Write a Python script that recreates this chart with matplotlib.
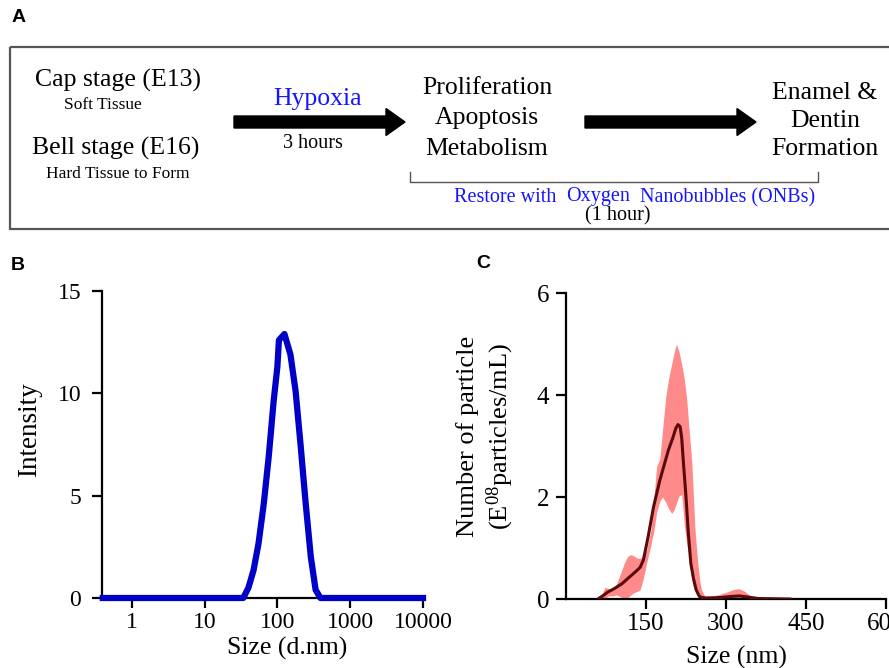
import matplotlib
matplotlib.use('Agg')
import matplotlib.pyplot as plt
from matplotlib.patches import Rectangle, FancyArrow
from matplotlib.ticker import LogLocator, NullFormatter, FixedLocator

plt.rcParams['font.family'] = ['Liberation Serif', 'DejaVu Serif']
plt.rcParams['mathtext.fontset'] = 'custom'
plt.rcParams['mathtext.rm'] = 'Liberation Serif'
plt.rcParams['mathtext.it'] = 'Liberation Serif:italic'

# panel B: DLS intensity distribution
size_b = [0.4, 34, 40, 47, 55, 65, 76, 89, 100, 105, 125, 151, 178, 208, 245, 288, 335, 390, 10000]
intensity_b = [0, 0, 0.5, 1.35, 2.65, 4.6, 6.9, 9.65, 11.3, 12.6, 12.9, 11.9, 10.1, 7.5, 4.6, 2.0, 0.4, 0, 0]
ticks_b_x = [1, 10, 100, 1000, 10000]
ticks_b_y = [0, 5, 10, 15]

# panel C: NTA particle counts, mean and spread
mean_x = [60, 70, 79, 90, 105, 120, 132, 139, 145, 154, 164, 176, 192, 200, 206, 210, 214, 217,
          220, 225, 229, 234, 239, 244, 250, 255, 260, 270, 290, 310, 325, 340, 360, 420]
mean_y = [0, 0.07, 0.14, 0.2, 0.3, 0.44, 0.55, 0.62, 0.76, 1.22, 1.8, 2.33, 2.92, 3.15, 3.35, 3.42, 3.38, 3.15,
          2.7, 2.0, 1.35, 0.7, 0.4, 0.18, 0.05, 0.03, 0.02, 0.02, 0.03, 0.05, 0.06, 0.04, 0.01, 0]
band_x = [60, 68, 73, 80, 89, 95, 104, 110, 116, 122, 128, 134, 139, 145, 151, 159, 165, 170, 176, 181,
          187, 192, 198, 203, 207, 212, 217, 222, 226, 231, 236, 239, 242, 247, 251, 254, 260, 270, 285,
          300, 315, 325, 335, 345, 360, 420]
band_hi = [0, 0.1, 0.23, 0.2, 0.17, 0.3, 0.55, 0.72, 0.84, 0.87, 0.84, 0.8, 0.8, 0.82, 0.95, 1.35, 2.0, 2.6,
           2.75, 3.31, 3.96, 4.3, 4.6, 4.85, 5.0, 4.85, 4.6, 4.3, 3.96, 3.3, 2.66, 2.0, 1.35, 0.7, 0.35,
           0.18, 0.06, 0.06, 0.08, 0.13, 0.19, 0.2, 0.15, 0.07, 0.01, 0]
band_lo = [0, 0, 0.02, 0.06, 0.06, 0.08, 0.03, 0.0, 0.03, 0.08, 0.13, 0.15, 0.18, 0.4, 0.7, 1.05, 1.35, 1.7,
           1.92, 2.0, 1.9, 1.78, 1.68, 1.75, 1.88, 2.02, 2.05, 1.45, 1.1, 0.8, 0.4, 0.25, 0.18, 0.06, 0,
           0, 0, 0, 0, 0, 0, 0, 0, 0, 0, 0]
ticks_c_x = [150, 300, 450, 600]
ticks_c_y = [0, 2, 4, 6]

W, H = 889, 668
fig = plt.figure(figsize=(W / 100, H / 100), dpi=100)


def box(left, top, right, bottom):
    return [left / W, 1 - bottom / H, (right - left) / W, (bottom - top) / H]


# panel A drawn on a full-figure axes in pixel units
ax0 = fig.add_axes([0, 0, 1, 1])
ax0.set_xlim(0, W)
ax0.set_ylim(H, 0)
ax0.axis('off')

ax0.add_patch(Rectangle((10, 47), 900, 182, fill=False, ec='#555555', lw=1.6))
ax0.add_patch(FancyArrow(234, 122, 171, 0, width=12, head_width=27, head_length=19,
                         length_includes_head=True, color='black'))
ax0.add_patch(FancyArrow(585, 122, 171, 0, width=12, head_width=27, head_length=19,
                         length_includes_head=True, color='black'))
ax0.plot([410, 410, 818, 818], [172, 182, 182, 172], color='#555555', lw=1)

big = 18.5
small = 12.5
mid = 14.5
blue = '#1515ff'
ax0.text(118, 80, 'Cap stage (E13)', fontsize=big, ha='center', va='center')
ax0.text(103, 105, 'Soft Tissue', fontsize=small, ha='center', va='center')
ax0.text(116, 148, 'Bell stage (E16)', fontsize=big, ha='center', va='center')
ax0.text(118, 174, 'Hard Tissue to Form', fontsize=small, ha='center', va='center')
ax0.text(318, 99, 'Hypoxia', fontsize=big, ha='center', va='center', color=blue)
ax0.text(313, 144, '3 hours', fontsize=mid, ha='center', va='center')
ax0.text(487, 88, 'Proliferation', fontsize=big, ha='center', va='center')
ax0.text(487, 118, 'Apoptosis', fontsize=big, ha='center', va='center')
ax0.text(487, 149, 'Metabolism', fontsize=big, ha='center', va='center')
ax0.text(825, 93, 'Enamel &', fontsize=big, ha='center', va='center')
ax0.text(825, 121, 'Dentin', fontsize=big, ha='center', va='center')
ax0.text(825, 149, 'Formation', fontsize=big, ha='center', va='center')
ax0.text(505, 198, 'Restore with', fontsize=mid, ha='center', va='center', color=blue)
ax0.text(598, 196, 'Oxygen', fontsize=mid, ha='center', va='center', color=blue)
ax0.text(728, 198, 'Nanobubbles (ONBs)', fontsize=mid, ha='center', va='center', color=blue)
ax0.text(618, 216, '(1 hour)', fontsize=mid, ha='center', va='center')

for lbl, x, y in [('A', 19, 18), ('B', 18, 265), ('C', 483, 264)]:
    ax0.text(x, y, lbl, fontsize=14, fontweight='bold', family='Liberation Sans',
             ha='center', va='center')

# panel B
axb = fig.add_axes(box(102, 291, 423, 598))
axb.plot(size_b, intensity_b, color='#0000c8', lw=4.5, clip_on=False, zorder=3)
axb.set_xscale('log')
axb.set_xlim(0.39, 10000)
axb.set_ylim(0, 15)
axb.xaxis.set_major_locator(FixedLocator(ticks_b_x))
axb.xaxis.set_minor_locator(LogLocator(base=10, subs=range(2, 10)))
axb.xaxis.set_minor_formatter(NullFormatter())
axb.set_xticklabels([str(t) for t in ticks_b_x])
axb.set_yticks(ticks_b_y)
axb.set_xlabel('Size (d.nm)', fontsize=18.5, va='center')
axb.xaxis.set_label_coords(0.576, -0.163)
axb.set_ylabel('Intensity', fontsize=19.5, va='center')
axb.yaxis.set_label_coords(-0.227, 0.55)

# panel C
axc = fig.add_axes(box(566, 293, 886, 599))
axc.fill_between(band_x, band_lo, band_hi, color='#ff8a8a', lw=0, zorder=2)
axc.plot(mean_x, mean_y, color='#5a0a0a', lw=2.2, zorder=3)
axc.set_xlim(0, 600)
axc.set_ylim(0, 6)
axc.set_xticks(ticks_c_x)
axc.set_yticks(ticks_c_y)
axc.set_xlabel('Size (nm)', fontsize=18.5, va='center')
axc.xaxis.set_label_coords(0.534, -0.19)
axc.set_ylabel('Number of particle\n(E$^{\\mathrm{08}}$particles/mL)', fontsize=19, va='center',
               linespacing=1.25)
axc.yaxis.set_label_coords(-0.25, 0.53)

for ax, fs, ypad in [(axb, 17, 8), (axc, 18, 5)]:
    for side in ['top', 'right']:
        ax.spines[side].set_visible(False)
    for side in ['left', 'bottom']:
        ax.spines[side].set_linewidth(1.6)
    ax.patch.set_alpha(0)
    ax.tick_params(axis='both', which='major', direction='out', length=7, width=1.6, labelsize=fs)
    ax.tick_params(axis='x', which='major', pad=3)
    ax.tick_params(axis='y', which='major', pad=ypad)
    ax.tick_params(axis='x', which='minor', direction='out', length=4, width=1.2)

fig.savefig('out.png', dpi=100)
